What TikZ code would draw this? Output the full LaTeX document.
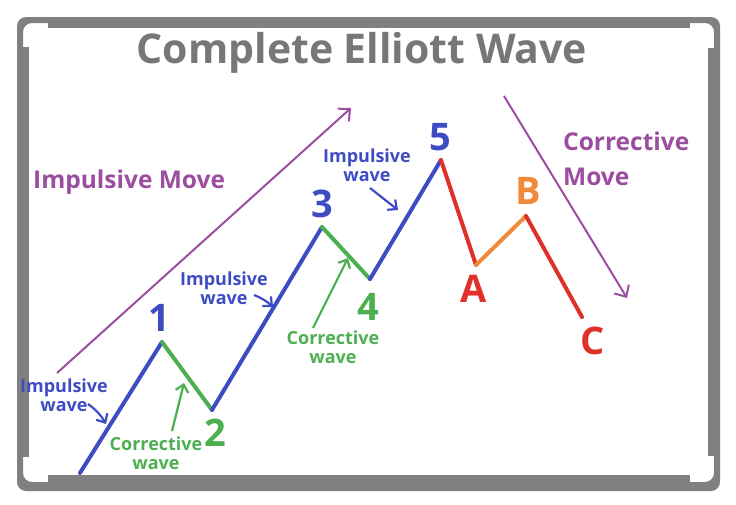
\documentclass[tikz,border=0pt]{standalone}
\usepackage{fontspec}
\setmainfont{Open Sans}
\usetikzlibrary{arrows.meta}
\definecolor{wblue}{HTML}{3E4CC4}
\definecolor{wgreen}{HTML}{4CAF50}
\definecolor{wred}{HTML}{E0302A}
\definecolor{worange}{HTML}{F08A3A}
\definecolor{wpurple}{HTML}{9B4DA0}
\definecolor{framegray}{HTML}{808080}
\definecolor{titlegray}{HTML}{777777}
\tikzset{
  wave/.style={line width=4pt, line cap=round, line join=round},
  bigarrow/.style={wpurple, line width=2pt, -{Straight Barb[length=9pt,width=17pt,line width=2pt]}},
  smallarrow/.style={line width=2.2pt, -{Straight Barb[length=7pt,width=13pt,line width=2.2pt]}},
  numlbl/.style={font=\bfseries\fontsize{38}{40}\selectfont, inner sep=0pt},
  wavelbl/.style={font=\bfseries\fontsize{18}{18.5}\selectfont, inner sep=0pt, align=center},
  movelbl/.style={font=\bfseries\fontsize{24.5}{35}\selectfont, inner sep=0pt, wpurple},
}
\begin{document}
\begin{tikzpicture}[x=1pt,y=-1pt]
\useasboundingbox (0,0) rectangle (736,504);
% frame
\fill[framegray, even odd rule, rounded corners=9pt]
  (17,17) rectangle (720,491) (23,23) rectangle (714,482);
\fill[framegray] (48,17) rectangle (690,28);
\fill[framegray] (48,475) rectangle (690,491);
\fill[framegray] (17,47) rectangle (29,457);
\fill[framegray] (708,48) rectangle (720,456);
% title
\node[font=\bfseries\fontsize{41}{45}\selectfont, text=titlegray, inner sep=0pt, anchor=base] (title) at (362,63) {Complete Elliott Wave};
% wave points
\coordinate (p0) at (80,473);
\coordinate (p1) at (162,342);
\coordinate (p2) at (212,410);
\coordinate (p3) at (322,227);
\coordinate (p4) at (370,279);
\coordinate (p5) at (441,160);
\coordinate (pA) at (476,265);
\coordinate (pB) at (526,216);
\coordinate (pC) at (582,317);
\draw[wave, wblue] (p0) -- (p1);
\draw[wave, wgreen] (p1) -- (p2);
\draw[wave, wblue] (p2) -- (p3);
\draw[wave, wgreen] (p3) -- (p4);
\draw[wave, wblue] (p4) -- (p5);
\draw[wave, wred] (p5) -- (pA);
\draw[wave, worange] (pA) -- (pB);
\draw[wave, wred] (pB) -- (pC);
% numbers
\node[numlbl, wblue] (n1) at (159,318) {1};
\node[numlbl, wgreen] (n2) at (215,433) {2};
\node[numlbl, wblue] (n3) at (322,204) {3};
\node[numlbl, wgreen] (n4) at (368,307) {4};
\node[numlbl, wblue] (n5) at (440,137) {5};
\node[numlbl, wred] (nA) at (474,289) {A};
\node[numlbl, worange] (nB) at (528,191) {B};
\node[numlbl, wred] (nC) at (593,341) {C};
% move arrows
\coordinate (im0) at (57,373);
\coordinate (im1) at (351,108);
\draw[bigarrow] (im0) -- (im1);
\coordinate (cm0) at (504,96);
\coordinate (cm1) at (627,298);
\draw[bigarrow] (cm0) -- (cm1);
\node[movelbl, anchor=base west] (impmove) at (33,188) {Impulsive Move};
\node[movelbl, anchor=west, align=left] (cormove) at (563,159) {Corrective\\Move};
% wave labels
\node[wavelbl, wblue] (iw1) at (64,395) {Impulsive\\wave};
\node[wavelbl, wgreen] (cw1) at (156,453) {Corrective\\wave};
\node[wavelbl, wblue] (iw2) at (224,288) {Impulsive\\wave};
\node[wavelbl, wgreen] (cw2) at (333,347) {Corrective\\wave};
\node[wavelbl, wblue] (iw3) at (367,165) {Impulsive\\wave};
% small arrows
\coordinate (a1s) at (88,404); \coordinate (a1e) at (106,424);
\draw[smallarrow, wblue] (a1s) to[bend left=12] (a1e);
\coordinate (a2s) at (254,295); \coordinate (a2e) at (273,307);
\draw[smallarrow, wblue] (a2s) to[bend left=10] (a2e);
\coordinate (a3s) at (370,188); \coordinate (a3e) at (398,210);
\draw[smallarrow, wblue] (a3s) -- (a3e);
\coordinate (a4s) at (172,431); \coordinate (a4e) at (184,383);
\draw[smallarrow, wgreen] (a4s) -- (a4e);
\coordinate (a5s) at (313,328); \coordinate (a5e) at (348,258);
\draw[smallarrow, wgreen] (a5s) -- (a5e);
\end{tikzpicture}
\end{document}
